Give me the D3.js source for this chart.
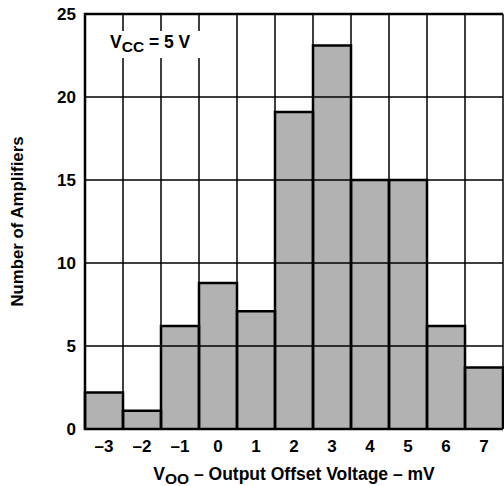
<!DOCTYPE html>
<html><head><meta charset="utf-8">
<script src="https://cdn.jsdelivr.net/npm/d3@7"></script>
<style>body{margin:0;background:#fff}</style>
</head><body>
<svg id="c" width="504" height="486"></svg>
<script>
const categories = [-3, -2, -1, 0, 1, 2, 3, 4, 5, 6, 7];
const counts = [2.2, 1.1, 6.2, 8.8, 7.1, 19.1, 23.1, 15, 15, 6.2, 3.7];
const yTicks = [0, 5, 10, 15, 20, 25];
const xTickLabels = ["\u20133", "\u20132", "\u20131", "0", "1", "2", "3", "4", "5", "6", "7"];

const svg = d3.select("#c");
const font = "'Liberation Sans', Arial, sans-serif";
const L = 85, R = 503, T = 14, B = 429;
const x = d3.scaleLinear().domain([-3.5, 7.5]).range([L, R]);
const y = d3.scaleLinear().domain([0, 25]).range([B, T]);
const edges = d3.range(-3.5, 7.6, 1);

// bar fills
svg.append("g").selectAll("rect").data(categories).join("rect")
  .attr("x", d => x(d - 0.5)).attr("width", d => x(d + 0.5) - x(d - 0.5))
  .attr("y", (d, i) => y(counts[i])).attr("height", (d, i) => y(0) - y(counts[i]))
  .attr("fill", "#b2b2b2");

// grid
const g = svg.append("g").attr("stroke", "#000").attr("stroke-width", 1.5);
g.selectAll("line.h").data(yTicks).join("line").attr("class", "h")
  .attr("x1", L).attr("x2", R).attr("y1", d => y(d)).attr("y2", d => y(d));
g.selectAll("line.v").data(edges).join("line").attr("class", "v")
  .attr("x1", d => x(d)).attr("x2", d => x(d)).attr("y1", T).attr("y2", B);

// bar outlines
svg.append("g").selectAll("path").data(categories).join("path")
  .attr("d", (d, i) => `M${x(d - 0.5)},${y(0)}V${y(counts[i])}H${x(d + 0.5)}V${y(0)}`)
  .attr("fill", "none").attr("stroke", "#000").attr("stroke-width", 2.5);

// frame
svg.append("path").attr("d", `M${x(7.5)},${T}H${L}V${B}H${x(7.5)}`)
  .attr("fill", "none").attr("stroke", "#000").attr("stroke-width", 2.5);

// y axis labels
svg.append("g").selectAll("text").data(yTicks).join("text")
  .attr("x", 76).attr("y", d => y(d) + 6).attr("text-anchor", "end")
  .attr("font-family", font).attr("font-weight", "bold").attr("font-size", 17)
  .text(d => d);

// x axis labels
svg.append("g").selectAll("text").data(categories).join("text")
  .attr("x", d => x(d)).attr("y", 452).attr("text-anchor", "middle")
  .attr("font-family", font).attr("font-weight", "bold").attr("font-size", 17)
  .text((d, i) => xTickLabels[i]);

// VCC label
svg.append("rect").attr("x", 102).attr("y", 31).attr("width", 106).attr("height", 27).attr("fill", "#fff");
const vt = svg.append("text").attr("x", 110).attr("y", 48)
  .attr("font-family", font).attr("font-weight", "bold").attr("font-size", 17.5);
vt.append("tspan").text("V");
vt.append("tspan").attr("dy", 4).attr("font-size", 15.5).text("CC");
vt.append("tspan").attr("dy", -4).text(" = 5 V");

// x title
const xt = svg.append("text").attr("x", x(2)).attr("y", 480).attr("text-anchor", "middle")
  .attr("font-family", font).attr("font-weight", "bold").attr("font-size", 17.5);
xt.append("tspan").text("V");
xt.append("tspan").attr("dy", 4).attr("font-size", 15.5).text("OO");
xt.append("tspan").attr("dy", -4).text(" \u2013 Output Offset Voltage \u2013 mV");

// y title
svg.append("text").attr("transform", `translate(23,${(T + B) / 2}) rotate(-90)`)
  .attr("text-anchor", "middle")
  .attr("font-family", font).attr("font-weight", "bold").attr("font-size", 16.8)
  .text("Number of Amplifiers");
</script>
</body></html>
